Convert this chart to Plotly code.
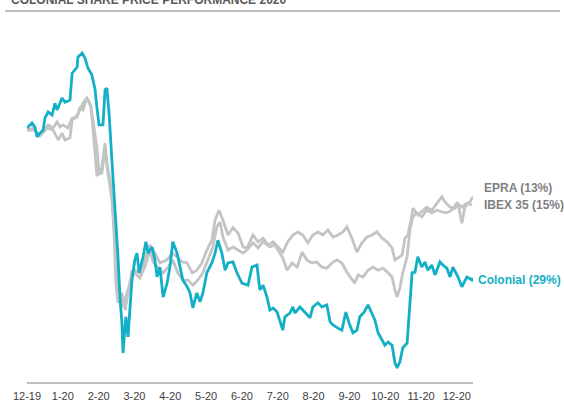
import plotly.graph_objects as go

# x positions in months since 12-19; values indexed to 100 at start
tick_labels = ["12-19", "1-20", "2-20", "3-20", "4-20", "5-20", "6-20",
               "7-20", "8-20", "9-20", "10-20", "11-20", "12-20"]

colonial_x = [0, 0.14, 0.22, 0.28, 0.36, 0.45, 0.50, 0.59, 0.70, 0.78, 0.84, 0.98, 1.06, 1.20, 1.26, 1.34,
              1.40, 1.42, 1.54, 1.62, 1.70, 1.81, 1.90, 1.95, 2.01, 2.12, 2.18, 2.23, 2.29, 2.37, 2.43, 2.48,
              2.54, 2.60, 2.65, 2.68, 2.76, 2.82, 2.93, 3.01, 3.07, 3.13, 3.24, 3.32, 3.38, 3.49, 3.57, 3.63,
              3.71, 3.80, 3.91, 3.99, 4.07, 4.19, 4.27, 4.35, 4.47, 4.55, 4.63, 4.74, 4.83, 4.91, 5.02, 5.16,
              5.25, 5.33, 5.44, 5.53, 5.61, 5.75, 5.86, 6.00, 6.17, 6.28, 6.42, 6.50, 6.59, 6.70, 6.78, 6.87,
              6.98, 7.06, 7.14, 7.20, 7.34, 7.42, 7.48, 7.62, 7.76, 7.90, 7.98, 8.12, 8.23, 8.37, 8.46, 8.54,
              8.68, 8.79, 8.90, 8.99, 9.10, 9.21, 9.29, 9.41, 9.52, 9.63, 9.71, 9.80, 9.91, 9.99, 10.08, 10.19,
              10.27, 10.33, 10.41, 10.49, 10.61, 10.69, 10.75, 10.83, 10.91, 11.02, 11.11, 11.19, 11.30, 11.39,
              11.53, 11.61, 11.72, 11.81, 11.89, 12.03, 12.14, 12.28, 12.42, 12.45]
colonial_y = [99.8, 100.8, 100.0, 98.1, 98.8, 99.4, 101.7, 102.9, 102.3, 104.6, 103.3, 105.6, 104.8, 105.2,
              110.4, 111.0, 111.6, 113.5, 114.3, 113.3, 111.4, 110.1, 107.2, 103.9, 100.4, 100.4, 107.2, 107.5,
              102.7, 93.6, 87.2, 80.7, 74.9, 66.5, 62.1, 56.3, 63.3, 59.4, 70.4, 74.3, 75.6, 71.8, 74.9, 77.8,
              75.6, 76.8, 74.3, 71.0, 72.9, 67.1, 69.8, 72.9, 77.8, 75.6, 72.9, 70.4, 69.1, 67.9, 65.0, 67.9,
              66.2, 67.9, 71.8, 73.7, 75.6, 78.1, 75.6, 72.3, 73.7, 73.9, 71.8, 69.8, 69.4, 72.9, 73.3, 68.5,
              69.4, 67.1, 64.6, 65.0, 64.2, 62.3, 60.7, 63.3, 64.0, 65.2, 64.0, 65.2, 64.2, 63.1, 65.2, 66.0,
              65.2, 65.6, 62.3, 61.7, 61.1, 60.7, 64.2, 62.1, 60.2, 60.7, 63.3, 64.2, 65.6, 64.0, 62.7, 60.2,
              58.8, 57.8, 58.4, 57.8, 54.4, 53.4, 54.6, 57.3, 58.2, 66.0, 71.8, 71.9, 74.9, 72.9, 73.9, 72.3,
              73.3, 71.4, 73.9, 73.3, 72.7, 71.0, 72.9, 71.0, 69.1, 71.0, 70.4, 70.8]

epra_x = [0, 0.17, 0.31, 0.45, 0.59, 0.73, 0.84, 0.92, 1.00, 1.14, 1.26, 1.40, 1.48, 1.56, 1.67, 1.76, 1.84,
          1.95, 2.01, 2.09, 2.18, 2.23, 2.32, 2.40, 2.46, 2.51, 2.60, 2.68, 2.79, 2.93, 3.01, 3.15, 3.29, 3.43,
          3.57, 3.71, 3.91, 4.05, 4.19, 4.33, 4.47, 4.61, 4.74, 4.88, 5.02, 5.16, 5.25, 5.36, 5.47, 5.61, 5.75,
          5.89, 6.03, 6.14, 6.31, 6.45, 6.59, 6.73, 6.87, 7.01, 7.14, 7.28, 7.42, 7.56, 7.70, 7.84, 7.98, 8.12,
          8.26, 8.40, 8.54, 8.68, 8.82, 8.93, 9.07, 9.21, 9.35, 9.49, 9.63, 9.77, 9.91, 10.05, 10.19, 10.27,
          10.35, 10.47, 10.55, 10.63, 10.75, 10.77, 10.91, 11.02, 11.16, 11.30, 11.44, 11.58, 11.67, 11.81,
          11.95, 12.03, 12.14, 12.22, 12.36, 12.45]
epra_y = [99.4, 99.8, 98.5, 99.0, 100.4, 99.8, 101.0, 100.0, 100.4, 99.8, 101.7, 101.9, 103.9, 103.3, 105.6,
          104.6, 101.4, 96.1, 91.1, 92.3, 96.9, 93.0, 89.7, 84.5, 78.1, 70.4, 67.9, 65.2, 67.9, 71.0, 72.3,
          71.8, 74.3, 77.2, 75.6, 73.7, 74.3, 75.6, 74.9, 73.9, 73.7, 71.8, 72.3, 73.7, 76.2, 78.1, 82.0, 83.9,
          82.0, 79.1, 80.5, 79.5, 76.8, 76.6, 79.1, 77.8, 78.5, 77.2, 77.8, 76.8, 75.8, 77.8, 79.1, 79.7, 79.1,
          77.6, 79.1, 79.7, 79.1, 80.1, 78.7, 79.1, 79.7, 80.7, 78.5, 75.8, 77.6, 78.7, 79.1, 79.7, 78.5, 77.8,
          76.6, 74.3, 74.7, 75.2, 78.5, 79.1, 83.0, 84.3, 83.0, 83.6, 84.5, 83.9, 85.3, 86.5, 85.5, 84.5, 84.3,
          85.3, 81.4, 84.5, 85.5, 86.5]

ibex_x = [0, 0.22, 0.36, 0.56, 0.73, 0.87, 0.98, 1.06, 1.20, 1.26, 1.34, 1.45, 1.56, 1.67, 1.79, 1.87, 1.95,
          2.09, 2.18, 2.26, 2.37, 2.43, 2.48, 2.54, 2.65, 2.74, 2.82, 2.93, 3.01, 3.15, 3.29, 3.43, 3.52, 3.66,
          3.80, 3.94, 4.07, 4.21, 4.35, 4.49, 4.63, 4.77, 4.91, 5.05, 5.19, 5.30, 5.39, 5.47, 5.61, 5.75, 5.89,
          6.03, 6.14, 6.31, 6.45, 6.59, 6.78, 6.92, 7.06, 7.14, 7.26, 7.40, 7.54, 7.68, 7.81, 7.95, 8.09, 8.23,
          8.37, 8.51, 8.65, 8.79, 8.93, 9.07, 9.15, 9.24, 9.38, 9.52, 9.66, 9.80, 9.94, 10.08, 10.19, 10.27,
          10.33, 10.41, 10.49, 10.61, 10.69, 10.77, 10.88, 11.02, 11.16, 11.30, 11.44, 11.58, 11.72, 11.86,
          12.00, 12.14, 12.28, 12.42]
ibex_y = [99.4, 99.4, 98.3, 99.8, 99.4, 97.5, 98.8, 97.5, 97.9, 101.4, 101.7, 102.9, 104.6, 105.6, 103.9,
          97.5, 90.7, 91.1, 95.6, 91.1, 85.9, 79.5, 69.8, 66.0, 67.9, 64.6, 67.9, 72.3, 71.8, 70.8, 72.9, 76.2,
          73.9, 72.9, 71.8, 72.9, 74.3, 71.8, 70.4, 70.4, 69.4, 70.4, 71.8, 74.3, 76.8, 80.7, 81.6, 78.7, 76.2,
          76.8, 76.2, 75.6, 76.2, 77.6, 76.6, 77.8, 76.8, 77.2, 75.6, 74.7, 72.3, 73.7, 72.9, 75.8, 74.3, 73.7,
          73.9, 72.9, 72.7, 73.7, 74.3, 73.7, 71.9, 70.4, 69.8, 71.4, 71.0, 72.3, 72.9, 72.3, 72.7, 71.8, 71.0,
          68.5, 67.1, 68.9, 71.8, 74.9, 80.1, 82.6, 83.4, 82.6, 83.9, 83.4, 83.9, 83.6, 83.4, 83.9, 85.3, 84.5,
          85.3, 84.9]

series_labels = ["EPRA (13%)", "IBEX 35 (15%)", "Colonial (29%)"]
label_y = [88.2, 84.9, 70.4]
label_x = [1.022, 1.022, 1.009]

TEAL = "#13AFC6"
GRAY = "#C4C4C4"
LABEL_GRAY = "#7F7F7F"

fig = go.Figure()
fig.add_trace(go.Scatter(x=epra_x, y=epra_y, mode="lines", line=dict(color=GRAY, width=2.8),
                         name="EPRA", hoverinfo="skip"))
fig.add_trace(go.Scatter(x=ibex_x, y=ibex_y, mode="lines", line=dict(color=GRAY, width=2.8),
                         name="IBEX 35", hoverinfo="skip"))
fig.add_trace(go.Scatter(x=colonial_x, y=colonial_y, mode="lines", line=dict(color=TEAL, width=2.8),
                         name="Colonial", hoverinfo="skip"))

label_colors = [LABEL_GRAY, LABEL_GRAY, TEAL]
for txt, xx, yy, col in zip(series_labels, label_x, label_y, label_colors):
    fig.add_annotation(x=xx, xref="paper", y=yy, yref="y", text=f"<b>{txt}</b>",
                       showarrow=False, xanchor="left", yanchor="middle", borderpad=0,
                       font=dict(family="Liberation Sans, Arial", size=12, color=col))

# clipped title at the top of the page
fig.add_annotation(x=-0.04, xref="paper", y=1.061, yref="paper",
                   text="<b>COLONIAL SHARE PRICE PERFORMANCE 2020</b>", showarrow=False,
                   xanchor="left", yanchor="bottom",
                   font=dict(family="Liberation Sans, Arial", size=12, color="#595959"))
fig.add_shape(type="line", xref="paper", yref="paper", x0=-0.049, x1=1.195, y0=1.054, y1=1.054,
              line=dict(color="#A6A6A6", width=1.5))

fig.update_layout(
    width=564, height=400,
    margin=dict(l=27, r=91, t=30, b=18),
    paper_bgcolor="white", plot_bgcolor="white",
    showlegend=False,
    font=dict(family="Liberation Sans, Arial", size=11, color="#595959"),
    xaxis=dict(range=[0, 12.45], tickmode="array", tickvals=list(range(len(tick_labels))),
               ticktext=tick_labels, showgrid=False, zeroline=False, showline=True,
               linecolor="#BFBFBF", linewidth=1.5, ticks="", automargin=False,
               ticklabelstandoff=3, tickfont=dict(size=11, color="#404040")),
    yaxis=dict(range=[50.68, 118.76], visible=False, showgrid=False, zeroline=False),
)

fig.write_html("out.html", config={"displayModeBar": False, "staticPlot": True},
               post_script="document.body.style.margin='0';document.body.style.overflow='hidden';")
